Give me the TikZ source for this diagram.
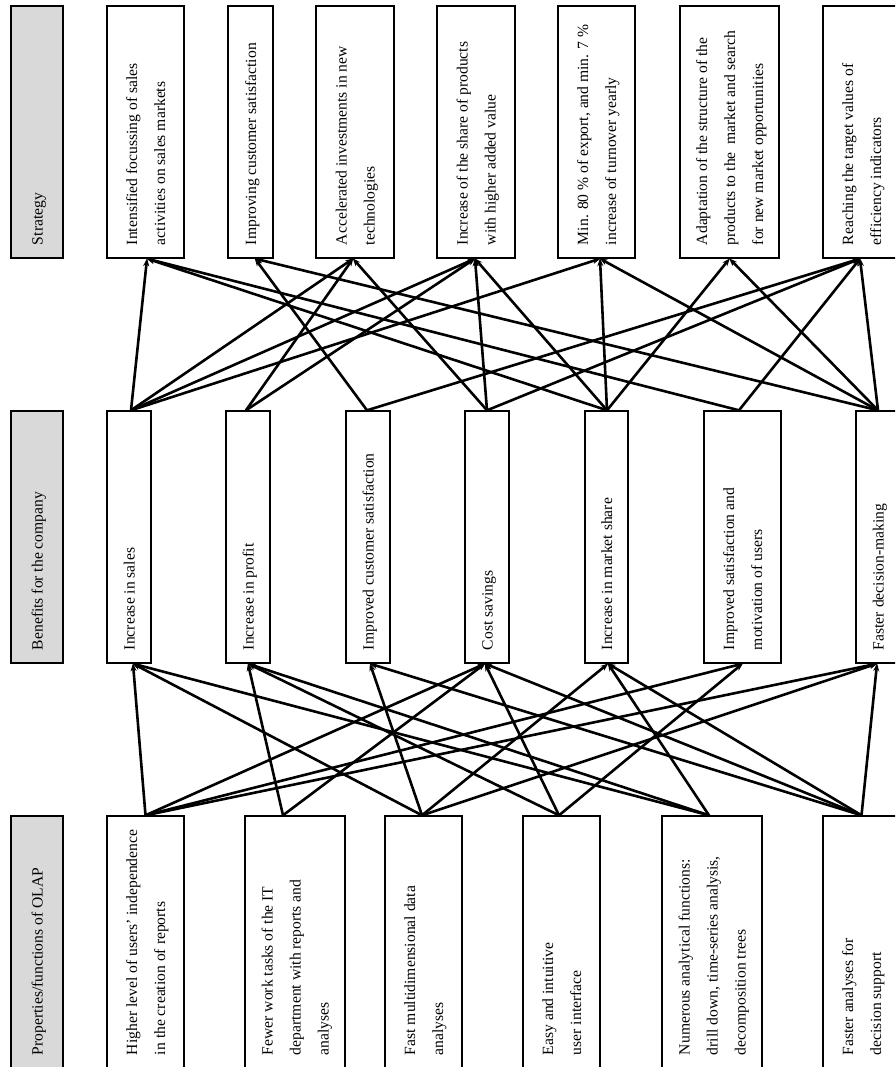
\documentclass[tikz,border=0pt]{standalone}
\usepackage{fontspec}
\setmainfont{Liberation Serif}
\usetikzlibrary{arrows.meta}
\newcommand{\bx}[1]{\makebox[226pt][l]{\begin{tabular}{@{}l@{}}#1\end{tabular}}}
\begin{document}
\begin{tikzpicture}[x=1pt,y=-1pt,
  box/.style={draw=black, line width=1.4pt, fill=white, rotate=90, inner xsep=13pt, inner ysep=0pt,
    minimum height=#1, font=\fontsize{15.6}{28}\selectfont},
  head/.style={box=#1, fill=black!15},
  link/.style={line width=2.6pt, -{Stealth[length=8pt,width=6pt]}, shorten >=-0.5pt}
]
\useasboundingbox (0,0) rectangle (895,1067);
\clip (0,0) rectangle (895,1067);

% headers
\node[head=52pt] (G1) at (37,132) {\bx{Strategy}};
\node[head=52pt] (G2) at (37,537) {\bx{Benefits for the company}};
\node[head=52pt] (G3) at (37,942) {\bx{Properties/functions of OLAP}};

% strategy row
\node[box=77pt] (T1) at (145.5,132) {\bx{Intensified focussing of sales\\activities on sales markets}};
\node[box=45pt] (T2) at (250.5,132) {\bx{Improving customer satisfaction}};
\node[box=78pt] (T3) at (355,132) {\bx{Accelerated investments in new\\technologies}};
\node[box=78pt] (T4) at (476,132) {\bx{Increase of the share of products\\with higher added value}};
\node[box=77pt] (T5) at (596.5,132) {\bx{Min. 80 \% of export, and min. 7 \%\\increase of turnover yearly}};
\node[box=99pt] (T6) at (729.5,132) {\bx{Adaptation of the structure of the\\products to the\ \ market and search\\for new market opportunities}};
\node[box=77pt] (T7) at (861.5,132) {\bx{Reaching the target values of\\efficiency indicators}};

% benefits row
\node[box=44pt] (M1) at (129,537) {\bx{Increase in sales}};
\node[box=44pt] (M2) at (248,537) {\bx{Increase in profit}};
\node[box=44pt] (M3) at (368,537) {\bx{Improved customer satisfaction}};
\node[box=44pt] (M4) at (487,537) {\bx{Cost savings}};
\node[box=43pt] (M5) at (606.5,537) {\bx{Increase in market share}};
\node[box=77pt] (M6) at (742.5,537) {\bx{Improved satisfaction and\\motivation of users}};
\node[box=44pt] (M7) at (878,537) {\bx{Faster decision-making}};

% properties row
\node[box=77pt] (B1) at (145.5,942) {\bx{Higher level of users' independence\\in the creation of reports}};
\node[box=100pt] (B2) at (295,942) {\bx{Fewer work tasks of the IT\\department with reports and\\analyses}};
\node[box=77pt] (B3) at (423.5,942) {\bx{Fast multidimensional data\\analyses}};
\node[box=77pt] (B4) at (561.5,942) {\bx{Easy and intuitive\\user interface}};
\node[box=100pt] (B5) at (712,942) {\bx{Numerous analytical functions:\\drill down, time-series analysis,\\decomposition trees}};
\node[box=77pt] (B6) at (861.5,942) {\bx{Faster analyses for\\decision support}};

% attach points (east = top of box, west = bottom of box)
\coordinate (b1) at (B1.east);
\coordinate (b2) at ([xshift=-12pt]B2.east);
\coordinate (b3) at ([xshift=-1.5pt]B3.east);
\coordinate (b4) at ([xshift=-2.5pt]B4.east);
\coordinate (b5) at ([xshift=-3pt]B5.east);
\coordinate (b6) at (B6.east);

\coordinate (m1i) at ([xshift=4pt]M1.west);
\coordinate (m2i) at (M2.west);
\coordinate (m3i) at ([xshift=2pt]M3.west);
\coordinate (m4i) at ([xshift=-2pt]M4.west);
\coordinate (m5i) at ([xshift=1.5pt]M5.west);
\coordinate (m6i) at (M6.west);
\coordinate (m7i) at ([xshift=-1pt]M7.west);

\coordinate (m1o) at ([xshift=2pt]M1.east);
\coordinate (m2o) at ([xshift=-2pt]M2.east);
\coordinate (m3o) at ([xshift=-1pt]M3.east);
\coordinate (m4o) at (M4.east);
\coordinate (m5o) at ([xshift=0.5pt]M5.east);
\coordinate (m6o) at ([xshift=-3.5pt]M6.east);
\coordinate (m7o) at (M7.east);

\coordinate (t1) at ([xshift=1.5pt]T1.west);
\coordinate (t2) at ([xshift=4.5pt]T2.west);
\coordinate (t3) at ([xshift=-2pt]T3.west);
\coordinate (t4) at ([xshift=-1pt]T4.west);
\coordinate (t5) at ([xshift=3.5pt]T5.west);
\coordinate (t6) at (T6.west);
\coordinate (t7) at ([xshift=-1.5pt]T7.west);

% properties -> benefits
\foreach \s/\t in {b1/m1i,b1/m4i,b1/m6i,b1/m7i,
                   b2/m2i,b2/m4i,
                   b3/m1i,b3/m3i,b3/m5i,b3/m7i,
                   b4/m2i,b4/m4i,b4/m6i,
                   b5/m1i,b5/m2i,b5/m5i,
                   b6/m3i,b6/m4i,b6/m5i,b6/m7i}
  \draw[link] (\s) -- (\t);

% benefits -> strategy
\foreach \s/\t in {m1o/t1,m1o/t3,m1o/t4,m1o/t5,
                   m2o/t3,m2o/t4,
                   m3o/t2,m3o/t7,
                   m4o/t3,m4o/t4,m4o/t7,
                   m5o/t1,m5o/t4,m5o/t5,m5o/t6,
                   m6o/t1,m6o/t7,
                   m7o/t2,m7o/t5,m7o/t6,m7o/t7}
  \draw[link] (\s) -- (\t);
\end{tikzpicture}
\end{document}
